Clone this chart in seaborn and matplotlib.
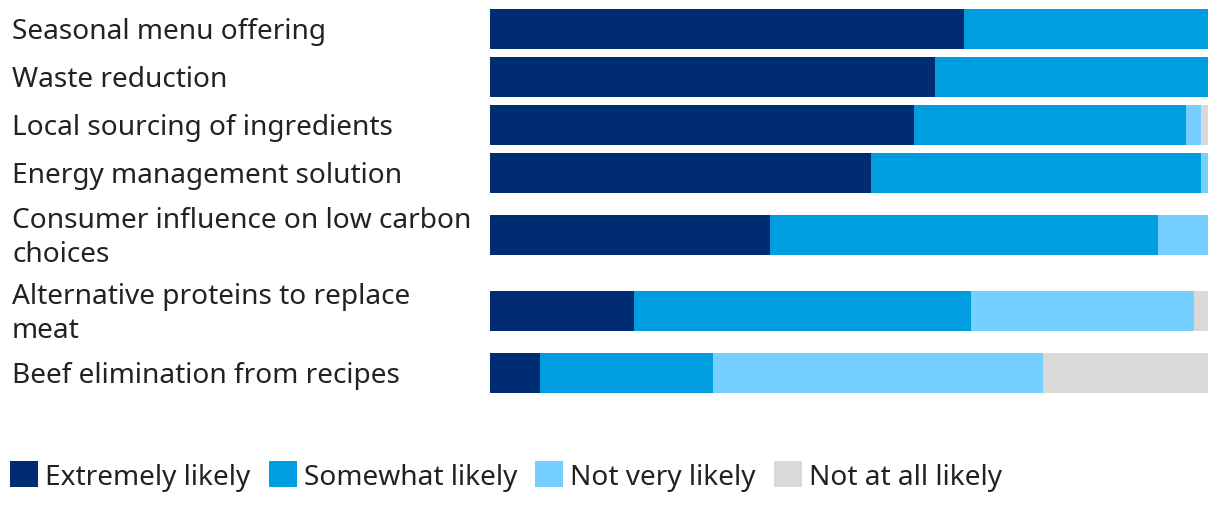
import numpy as np
import pandas as pd
import matplotlib.pyplot as plt
import seaborn as sns
from matplotlib.patches import Patch
from matplotlib.transforms import blended_transform_factory

# Data (percent of respondents)
labels = [
    "Seasonal menu offering",
    "Waste reduction",
    "Local sourcing of ingredients",
    "Energy management solution",
    "Consumer influence on low carbon\nchoices",
    "Alternative proteins to replace\nmeat",
    "Beef elimination from recipes",
]
series = ["Extremely likely", "Somewhat likely", "Not very likely", "Not at all likely"]
extremely = [66, 62, 59, 53, 39, 20, 7]
somewhat = [34, 38, 38, 46, 54, 47, 24]
not_very = [0, 0, 2, 1, 7, 31, 46]
not_at_all = [0, 0, 1, 0, 0, 2, 23]
colors = ["#002d72", "#009de0", "#76d0ff", "#d9d9d9"]

sns.set_theme(style="white")
plt.rcParams["font.family"] = ["Noto Sans", "DejaVu Sans"]
text_color = "#222222"
fs = 20.2

# row slots: two-line labels get a taller slot
nlines = [lab.count("\n") + 1 for lab in labels]
slots = np.array([48 + 28 * (n - 1) for n in nlines], dtype=float)
centers = np.cumsum(slots) - slots / 2

df = pd.DataFrame({"label": labels, "pos": centers,
                   "Extremely likely": extremely, "Somewhat likely": somewhat,
                   "Not very likely": not_very, "Not at all likely": not_at_all})
cum = df[series].cumsum(axis=1)

fig = plt.figure(figsize=(12.2, 5.1), dpi=100)
ax = fig.add_axes([490 / 1220, 1 - 398 / 510, 718 / 1220, slots.sum() / 510])

# draw cumulative layers from the back so they stack
for s, c in reversed(list(zip(series, colors))):
    sns.barplot(x=cum[s], y=df["pos"], orient="h", native_scale=True,
                color=c, width=40 / 48, saturation=1, linewidth=0, ax=ax)

ax.set_xlim(0, 100)
ax.set_ylim(slots.sum(), 0)
ax.set_xlabel("")
ax.set_ylabel("")
ax.set_xticks([])
ax.set_yticks([])
sns.despine(ax=ax, left=True, bottom=True)

tr = blended_transform_factory(fig.transFigure, ax.transData)
for lab, y in zip(labels, centers):
    ax.text(12 / 1220, y + 2, lab, transform=tr, ha="left", va="center",
            fontsize=fs, color=text_color, linespacing=1.3)

handles = [Patch(facecolor=c, edgecolor="none") for c in colors]
fig.legend(handles, series, loc="center left", bbox_to_anchor=(10 / 1220, 1 - 477 / 510),
           ncol=4, frameon=False, fontsize=fs, handlelength=1.0, handleheight=1.0,
           handletextpad=0.25, columnspacing=0.65, borderpad=0, borderaxespad=0,
           labelcolor=text_color)

fig.savefig("out.png", dpi=100)
